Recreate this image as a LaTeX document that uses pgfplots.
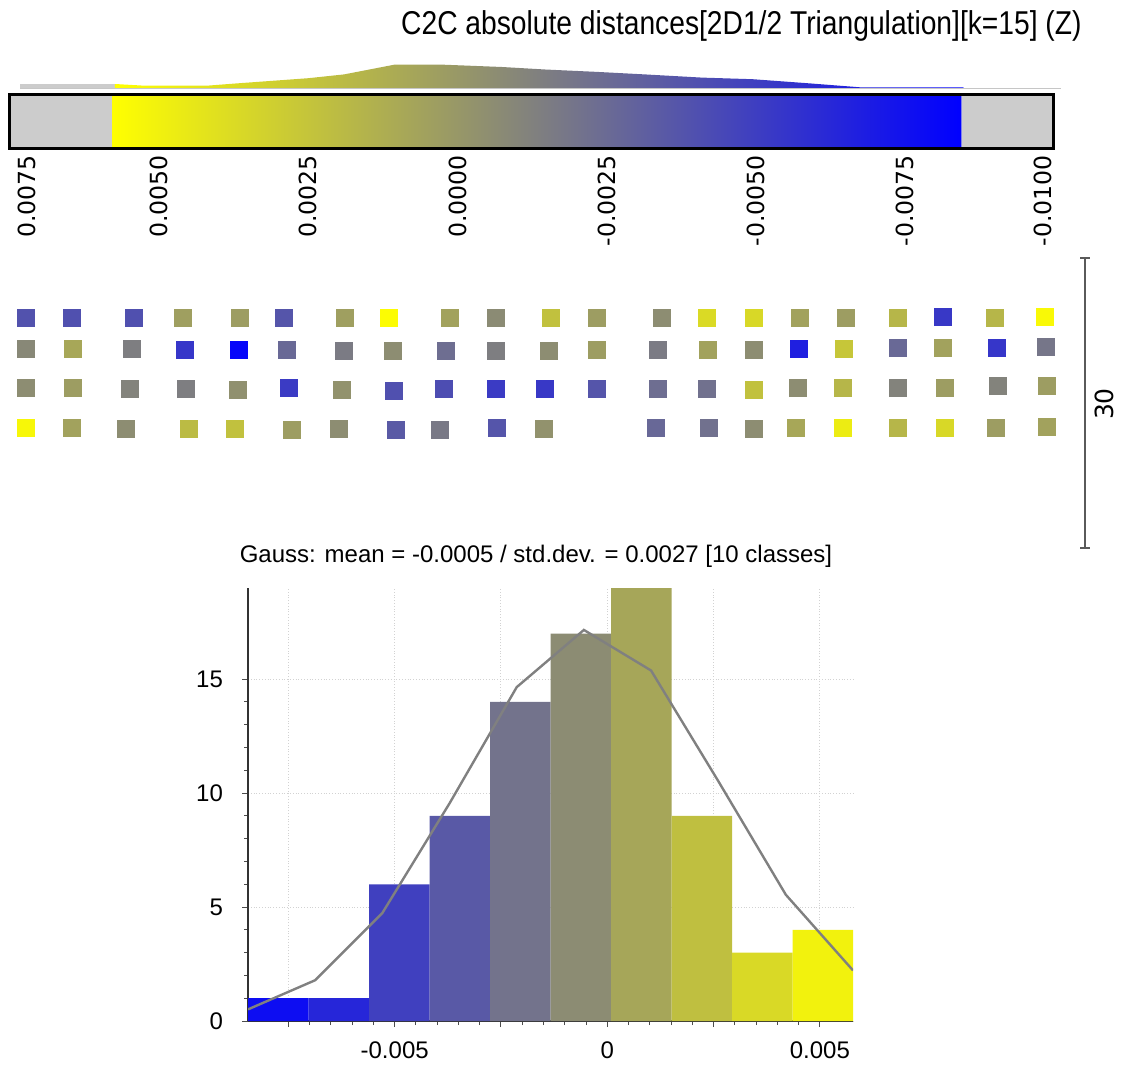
\documentclass[border=0pt]{standalone}
\usepackage{pgfplots}
\pgfplotsset{compat=1.18}
\usepackage{fontspec}
\setmainfont{Liberation Sans}
\newfontfamily\dejavu{DejaVu Sans}
\definecolor{barGrey}{RGB}{204,204,204}
\definecolor{cYellow}{RGB}{255,255,0}
\definecolor{cBlue}{RGB}{0,0,255}
\definecolor{hA}{RGB}{13,13,242}
\definecolor{hB}{RGB}{38,38,217}
\definecolor{hC}{RGB}{64,64,191}
\definecolor{hD}{RGB}{89,89,166}
\definecolor{hE}{RGB}{115,115,140}
\definecolor{hF}{RGB}{140,140,115}
\definecolor{hG}{RGB}{166,166,89}
\definecolor{hH}{RGB}{191,191,64}
\definecolor{hI}{RGB}{217,217,38}
\definecolor{hJ}{RGB}{242,242,13}
\definecolor{gaussGrey}{RGB}{128,128,128}
\definecolor{scaleGrey}{RGB}{90,90,90}
\begin{document}
\begin{tikzpicture}[x=1pt,y=1pt]
% title
\node[anchor=base east, inner sep=0] at (541pt,-17pt) {\scalebox{0.855}[1]{\fontsize{16.5}{19}\selectfont C2C absolute distances[2D1/2 Triangulation][k=15] (Z)}};
% mini histogram above the colour bar
\begin{axis}[at={(5pt,-44pt)}, anchor=south west, scale only axis, width=522pt, height=15pt,
  xmin=-0.0100, xmax=0.0075, x dir=reverse, ymin=0, ymax=30, hide axis, clip=false, scaled ticks=false]
\addplot[draw=none, fill=barGrey] coordinates {(0.00733,0)(0.00733,4)(0.00574,4)(0.00574,0)} \closedcycle;
\addplot[draw=none, left color=cYellow, right color=cBlue] coordinates {
(0.00574,0)(0.00574,4)(0.00527,2.4)(0.00418,2.4)(0.00370,4.6)(0.00250,9.8)(0.00190,13.6)
(0.00106,23.3)(0.00023,23.3)(-0.00075,21)(-0.00147,18.5)(-0.00231,16.2)(-0.00314,13.6)
(-0.00410,10.4)(-0.00495,8.8)(-0.00591,4.6)(-0.00675,0.7)(-0.00849,0.5)(-0.00849,0)} \closedcycle;
\addplot[gray!45, line width=0.4pt] coordinates {(0.00733,0)(-0.01012,0)};
\end{axis}
% colour bar
\begin{axis}[at={(5pt,-74pt)}, anchor=south west, scale only axis, width=522pt, height=27pt,
  xmin=-0.0100, xmax=0.0075, x dir=reverse, ymin=0, ymax=1, axis on top, scaled ticks=false,
  axis line style={line width=1.5pt}, ytick=\empty,
  xtick={0.0075,0.005,0.0025,0,-0.0025,-0.005,-0.0075,-0.01},
  xticklabels={{\raisebox{-8.5pt}[\height][\depth]{0.0075}},0.0050,0.0025,0.0000,-0.0025,-0.0050,-0.0075,{\raisebox{5.5pt}[\height][\depth]{-0.0100}}},
  major tick length=0pt,
  xticklabel style={rotate=90, anchor=east, font=\dejavu\fontsize{11.8}{12}\selectfont}]
\addplot[draw=none, fill=barGrey] coordinates {(0.0075,0)(0.0075,1)(0.00578,1)(0.00578,0)} \closedcycle;
\addplot[draw=none, left color=cYellow, right color=cBlue] coordinates {(0.00578,0)(0.00578,1)(-0.00845,1)(-0.00845,0)} \closedcycle;
\addplot[draw=none, fill=barGrey] coordinates {(-0.00845,0)(-0.00845,1)(-0.0100,1)(-0.0100,0)} \closedcycle;
\end{axis}
% point cloud
\begin{axis}[at={(0pt,-125pt)}, anchor=north west, scale only axis, width=560.5pt, height=110pt,
  xmin=0, xmax=1121, ymin=250, ymax=470, y dir=reverse, hide axis, clip=false,
  colormap={by}{rgb255=(0,0,255) rgb255=(255,255,0)}, point meta min=0, point meta max=1]
\addplot[scatter, only marks, mark=square*, mark size=4.2pt, point meta=explicit,
  scatter/use mapped color={draw=mapped color, fill=mapped color}] table[x=x, y=y, meta=f] {
x y f
26 318 0.32
72 318 0.31
134 318 0.31
183 318 0.62
240 318 0.61
284 318 0.33
345 318 0.62
389 318 0.98
450 318 0.63
496 318 0.54
551 318 0.75
597 318 0.61
662 318 0.55
707 318 0.85
754 318 0.84
800 318 0.63
846 318 0.61
898 318 0.71
943 317 0.22
995 318 0.71
1045 317 0.97
26 349 0.53
73 349 0.65
132 349 0.49
185 350 0.21
239 350 0.02
287 350 0.41
344 351 0.48
393 351 0.55
446 351 0.43
496 351 0.49
549 351 0.55
597 350 0.61
658 350 0.48
708 350 0.63
754 350 0.55
799 349 0.12
844 349 0.77
898 348 0.41
943 348 0.63
997 348 0.21
1046 347 0.46
26 388 0.55
73 388 0.61
130 389 0.51
186 389 0.49
238 390 0.56
289 388 0.23
342 390 0.57
394 391 0.31
444 389 0.30
496 389 0.23
545 389 0.22
597 389 0.33
658 389 0.43
707 389 0.44
754 390 0.75
798 388 0.55
843 388 0.71
898 388 0.51
945 388 0.61
998 386 0.51
1047 386 0.61
26 428 0.96
72 428 0.63
126 429 0.55
189 429 0.73
235 429 0.75
292 430 0.61
339 429 0.55
396 430 0.35
440 430 0.47
497 428 0.33
544 429 0.57
656 428 0.405
709 428 0.44
754 429 0.55
796 428 0.65
843 428 0.92
898 428 0.71
945 428 0.84
996 428 0.61
1047 427 0.63
};
\draw[scaleGrey, line width=0.6pt] (axis cs:1085,258) -- (axis cs:1085,548);
\draw[scaleGrey, line width=0.6pt] (axis cs:1080,258) -- (axis cs:1090,258);
\draw[scaleGrey, line width=0.6pt] (axis cs:1080,548) -- (axis cs:1090,548);
\node[rotate=90, font=\dejavu\fontsize{12.5}{14}\selectfont] at (axis cs:1104,404) {30};
\end{axis}
% histogram title
\node[font=\fontsize{12}{14}\selectfont] at (268pt,-278pt) {Gauss: mean = -0.0005 / std.dev. = 0.0027 [10 classes]};
% histogram
\begin{axis}[at={(124pt,-510.5pt)}, anchor=south west, scale only axis, width=302.5pt, height=216.5pt,
  xmin=-0.00845, xmax=0.00578, ymin=0, ymax=19, scaled ticks=false,
  axis lines=left, axis line style={black!80, line width=0.6pt, -},
  tick align=outside,
  xtick={-0.0075,-0.005,-0.0025,0,0.0025,0.005}, xticklabels={,-0.005,,0,,0.005},
  minor x tick num=4,
  ytick={0,5,10,15}, yticklabels={0,5,10,15}, minor y tick num=4,
  grid=major, major grid style={densely dotted, gray!35, line width=0.5pt},
  major tick length=3pt, minor tick length=2pt,
  tick style={black!70, line width=0.5pt},
  ticklabel style={font=\fontsize{12}{14}\selectfont},
  xticklabel style={yshift=-4pt}, yticklabel style={xshift=-6pt}]
\addplot[draw=none, fill=hA] coordinates {(-0.00845,0)(-0.00845,1)(-0.007027,1)(-0.007027,0)} \closedcycle;
\addplot[draw=none, fill=hB] coordinates {(-0.007027,0)(-0.007027,1)(-0.005604,1)(-0.005604,0)} \closedcycle;
\addplot[draw=none, fill=hC] coordinates {(-0.005604,0)(-0.005604,6)(-0.004181,6)(-0.004181,0)} \closedcycle;
\addplot[draw=none, fill=hD] coordinates {(-0.004181,0)(-0.004181,9)(-0.002758,9)(-0.002758,0)} \closedcycle;
\addplot[draw=none, fill=hE] coordinates {(-0.002758,0)(-0.002758,14)(-0.001335,14)(-0.001335,0)} \closedcycle;
\addplot[draw=none, fill=hF] coordinates {(-0.001335,0)(-0.001335,17)(0.000088,17)(0.000088,0)} \closedcycle;
\addplot[draw=none, fill=hG] coordinates {(0.000088,0)(0.000088,19)(0.001511,19)(0.001511,0)} \closedcycle;
\addplot[draw=none, fill=hH] coordinates {(0.001511,0)(0.001511,9)(0.002934,9)(0.002934,0)} \closedcycle;
\addplot[draw=none, fill=hI] coordinates {(0.002934,0)(0.002934,3)(0.004357,3)(0.004357,0)} \closedcycle;
\addplot[draw=none, fill=hJ] coordinates {(0.004357,0)(0.004357,4)(0.00578,4)(0.00578,0)} \closedcycle;
\addplot[gaussGrey, line width=1.2pt] coordinates {
(-0.00845,0.51)(-0.00687,1.79)(-0.00529,4.74)(-0.00371,9.55)(-0.00213,14.65)
(-0.00055,17.16)(0.00103,15.38)(0.00261,10.53)(0.00420,5.54)(0.00578,2.22)};
\end{axis}
\pgfresetboundingbox
\path[use as bounding box] (0pt,0pt) rectangle (560.5pt,-533pt);
\end{tikzpicture}
\end{document}
